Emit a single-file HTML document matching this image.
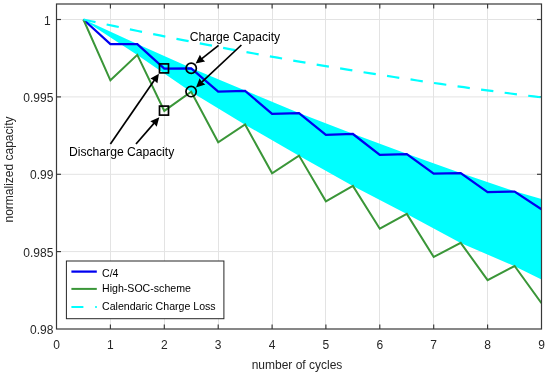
<!DOCTYPE html>
<html><head><meta charset="utf-8"><title>plot</title>
<style>
html,body{margin:0;padding:0;background:#fff;}
body{width:550px;height:372px;overflow:hidden;}
svg{display:block;font-family:"Liberation Sans",sans-serif;}
</style></head><body>
<svg width="550" height="372" viewBox="0 0 550 372">
<rect width="550" height="372" fill="#fff"/>
<g stroke="#e3e3e3" stroke-width="1"><line x1="110.5" y1="4.0" x2="110.5" y2="329.0"/><line x1="164.5" y1="4.0" x2="164.5" y2="329.0"/><line x1="218.5" y1="4.0" x2="218.5" y2="329.0"/><line x1="272.5" y1="4.0" x2="272.5" y2="329.0"/><line x1="325.5" y1="4.0" x2="325.5" y2="329.0"/><line x1="379.5" y1="4.0" x2="379.5" y2="329.0"/><line x1="433.5" y1="4.0" x2="433.5" y2="329.0"/><line x1="487.5" y1="4.0" x2="487.5" y2="329.0"/><line x1="56.5" y1="19.5" x2="541.5" y2="19.5"/><line x1="56.5" y1="96.9" x2="541.5" y2="96.9"/><line x1="56.5" y1="174.3" x2="541.5" y2="174.3"/><line x1="56.5" y1="251.6" x2="541.5" y2="251.6"/></g>
<g stroke="#383838" stroke-width="1.15"><line x1="110.4" y1="329.0" x2="110.4" y2="324.5"/><line x1="110.4" y1="4.0" x2="110.4" y2="8.5"/><line x1="164.3" y1="329.0" x2="164.3" y2="324.5"/><line x1="164.3" y1="4.0" x2="164.3" y2="8.5"/><line x1="218.2" y1="329.0" x2="218.2" y2="324.5"/><line x1="218.2" y1="4.0" x2="218.2" y2="8.5"/><line x1="272.1" y1="329.0" x2="272.1" y2="324.5"/><line x1="272.1" y1="4.0" x2="272.1" y2="8.5"/><line x1="325.9" y1="329.0" x2="325.9" y2="324.5"/><line x1="325.9" y1="4.0" x2="325.9" y2="8.5"/><line x1="379.8" y1="329.0" x2="379.8" y2="324.5"/><line x1="379.8" y1="4.0" x2="379.8" y2="8.5"/><line x1="433.7" y1="329.0" x2="433.7" y2="324.5"/><line x1="433.7" y1="4.0" x2="433.7" y2="8.5"/><line x1="487.6" y1="329.0" x2="487.6" y2="324.5"/><line x1="487.6" y1="4.0" x2="487.6" y2="8.5"/><line x1="56.5" y1="19.5" x2="61.0" y2="19.5"/><line x1="541.5" y1="19.5" x2="537.0" y2="19.5"/><line x1="56.5" y1="96.9" x2="61.0" y2="96.9"/><line x1="541.5" y1="96.9" x2="537.0" y2="96.9"/><line x1="56.5" y1="174.3" x2="61.0" y2="174.3"/><line x1="541.5" y1="174.3" x2="537.0" y2="174.3"/><line x1="56.5" y1="251.6" x2="61.0" y2="251.6"/><line x1="541.5" y1="251.6" x2="537.0" y2="251.6"/></g>
<clipPath id="c"><rect x="56.5" y="4.0" width="485.0" height="325.0"/></clipPath>
<g clip-path="url(#c)" fill="none" stroke-linejoin="miter">
<polygon points="83.4,19.2 137.3,43.9 191.2,68.1 245.1,90.6 299.0,112.9 352.9,133.7 406.8,153.8 460.7,172.9 514.6,191.2 541.5,199.0 541.5,279.5 514.6,266.2 460.7,243.0 406.8,214.1 352.9,186.1 299.0,155.8 245.1,124.7 191.2,92.0 137.3,55.0 83.4,19.7" fill="#00ffff"/>
<polyline points="83.4,19.5 110.4,44.1 137.3,44.1 164.3,68.6 191.2,68.4 218.2,91.5 245.1,90.9 272.1,113.8 299.0,113.2 325.9,134.8 352.9,134.0 379.8,154.8 406.8,154.2 433.7,173.6 460.7,173.2 487.6,192.2 514.6,191.6 541.5,209.2" stroke="#0000f0" stroke-width="2.25"/>
<polyline points="83.4,19.5 110.4,80.3 137.3,54.8 164.3,110.9 191.2,91.8 218.2,142.3 245.1,124.5 272.1,173.3 299.0,155.6 325.9,201.3 352.9,185.9 379.8,228.7 406.8,213.9 433.7,257.0 460.7,242.8 487.6,280.1 514.6,266.0 541.5,303.2" stroke="#3a9638" stroke-width="2.0"/>
<polyline points="83.4,19.5 91.2,21.2 98.9,22.8 106.7,24.5 114.5,26.1 122.2,27.8 130.0,29.4 137.8,31.0 145.5,32.6 153.3,34.1 161.0,35.7 168.8,37.3 176.6,38.8 184.3,40.3 192.1,41.9 199.9,43.4 207.6,44.9 215.4,46.3 223.2,47.8 230.9,49.3 238.7,50.7 246.5,52.1 254.2,53.5 262.0,55.0 269.7,56.4 277.5,57.7 285.3,59.1 293.0,60.5 300.8,61.8 308.6,63.1 316.3,64.5 324.1,65.8 331.9,67.1 339.6,68.3 347.4,69.6 355.2,70.9 362.9,72.1 370.7,73.4 378.4,74.6 386.2,75.8 394.0,77.0 401.7,78.2 409.5,79.3 417.3,80.5 425.0,81.7 432.8,82.8 440.6,83.9 448.3,85.0 456.1,86.1 463.9,87.2 471.6,88.3 479.4,89.3 487.1,90.4 494.9,91.4 502.7,92.5 510.4,93.5 518.2,94.5 526.0,95.5 533.7,96.4 541.5,97.4" stroke="#00ffff" stroke-width="2.2" stroke-dasharray="12.4 11.36"/>
</g>
<g fill="none" stroke="#000" stroke-width="1.7">
<rect x="159.5" y="63.9" width="9" height="9"/>
<rect x="159.5" y="106.1" width="9" height="9"/>
<circle cx="191.2" cy="68.2" r="5.15"/>
<circle cx="191.1" cy="91.6" r="5.15"/>
</g>
<line x1="218.6" y1="45.4" x2="200.9" y2="59.4" stroke="#000" stroke-width="1.7"/><polygon points="195.6,63.6 199.9,54.8 202.0,58.6 205.1,61.4" fill="#000"/><line x1="241.4" y1="45.0" x2="201.0" y2="82.8" stroke="#000" stroke-width="1.7"/><polygon points="196.0,87.4 199.6,78.3 201.9,81.9 205.3,84.5" fill="#000"/><line x1="110.4" y1="144.0" x2="155.0" y2="79.3" stroke="#000" stroke-width="1.7"/><polygon points="158.9,73.7 157.4,83.3 154.3,80.4 150.4,78.6" fill="#000"/><line x1="136.0" y1="144.0" x2="154.8" y2="122.4" stroke="#000" stroke-width="1.7"/><polygon points="159.3,117.3 156.7,126.7 154.0,123.4 150.3,121.2" fill="#000"/>
<rect x="56.5" y="4.0" width="485.0" height="325.0" fill="none" stroke="#383838" stroke-width="1.2"/>
<g font-size="12px" fill="#262626"><text x="56.5" y="348.7" text-anchor="middle">0</text><text x="110.4" y="348.7" text-anchor="middle">1</text><text x="164.3" y="348.7" text-anchor="middle">2</text><text x="218.2" y="348.7" text-anchor="middle">3</text><text x="272.1" y="348.7" text-anchor="middle">4</text><text x="325.9" y="348.7" text-anchor="middle">5</text><text x="379.8" y="348.7" text-anchor="middle">6</text><text x="433.7" y="348.7" text-anchor="middle">7</text><text x="487.6" y="348.7" text-anchor="middle">8</text><text x="541.5" y="348.7" text-anchor="middle">9</text><text x="50.8" y="24.6" text-anchor="end">1</text><text x="53.4" y="102.0" text-anchor="end">0.995</text><text x="53.4" y="179.4" text-anchor="end">0.99</text><text x="53.4" y="256.7" text-anchor="end">0.985</text><text x="53.4" y="334.1" text-anchor="end">0.98</text>
<text x="297" y="369.1" text-anchor="middle">number of cycles</text>
<text transform="translate(12.6,169.5) rotate(-90)" text-anchor="middle">normalized capacity</text>
</g>
<g font-size="12.15px" fill="#000">
<text x="189.7" y="41.4">Charge Capacity</text>
<text x="69.0" y="156">Discharge Capacity</text>
</g>
<rect x="66.4" y="261" width="157.5" height="57.7" fill="#fff" stroke="#262626" stroke-width="1"/>
<line x1="71.4" y1="271.6" x2="96.8" y2="271.6" stroke="#0000f0" stroke-width="2.25"/>
<line x1="71.4" y1="288.9" x2="96.8" y2="288.9" stroke="#3a9638" stroke-width="2.0"/>
<line x1="71.4" y1="307" x2="96.8" y2="307" stroke="#00ffff" stroke-width="2.2" stroke-dasharray="12 11.8"/>
<g font-size="10.6px" fill="#000">
<text x="102" y="276.5">C/4</text>
<text x="102" y="292.1">High-SOC-scheme</text>
<text x="102" y="310.4">Calendaric Charge Loss</text>
</g>
</svg>
</body></html>
